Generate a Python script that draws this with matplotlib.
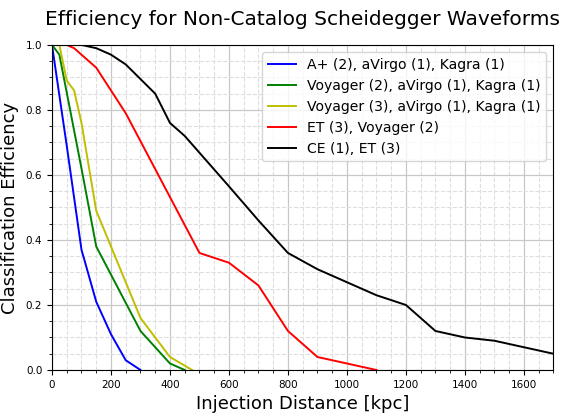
import matplotlib
matplotlib.use("Agg")
import matplotlib.pyplot as plt
from matplotlib.ticker import AutoMinorLocator

# injection distance [kpc] and efficiency for each network
dist_aplus = [0, 50, 100, 150, 200, 250, 300]
eff_aplus = [1.0, 0.69, 0.37, 0.21, 0.11, 0.03, 0.0]

dist_voy2 = [0, 25, 100, 150, 300, 400, 450]
eff_voy2 = [1.0, 0.97, 0.62, 0.38, 0.12, 0.02, 0.0]

dist_voy3 = [0, 25, 50, 75, 100, 150, 300, 400, 475]
eff_voy3 = [1.0, 1.0, 0.89, 0.86, 0.76, 0.49, 0.16, 0.04, 0.0]

dist_et = [0, 50, 75, 150, 250, 500, 600, 700, 800, 900, 1100]
eff_et = [1.0, 1.0, 0.99, 0.93, 0.79, 0.36, 0.33, 0.26, 0.12, 0.04, 0.0]

dist_ce = [0, 100, 150, 200, 250, 350, 400, 450, 600, 700, 800, 900,
           1100, 1200, 1300, 1400, 1500, 1600, 1700]
eff_ce = [1.0, 1.0, 0.99, 0.97, 0.94, 0.85, 0.76, 0.72, 0.565, 0.46, 0.36,
          0.31, 0.23, 0.20, 0.12, 0.10, 0.09, 0.07, 0.05]

labels = ["A+ (2), aVirgo (1), Kagra (1)",
          "Voyager (2), aVirgo (1), Kagra (1)",
          "Voyager (3), aVirgo (1), Kagra (1)",
          "ET (3), Voyager (2)",
          "CE (1), ET (3)"]


def main():
    fig = plt.figure(figsize=(5.67, 4.16), dpi=100)
    ax = fig.add_axes([0.0917, 0.1106, 0.8843, 0.7814])

    ax.plot(dist_aplus, eff_aplus, 'b', lw=1.4, label=labels[0])
    ax.plot(dist_voy2, eff_voy2, 'g', lw=1.4, label=labels[1])
    ax.plot(dist_voy3, eff_voy3, 'y', lw=1.4, label=labels[2])
    ax.plot(dist_et, eff_et, 'r', lw=1.4, label=labels[3])
    ax.plot(dist_ce, eff_ce, 'k', lw=1.4, label=labels[4])

    ax.set_xlim(0, 1700)
    ax.set_ylim(0, 1.0)
    ax.xaxis.set_minor_locator(AutoMinorLocator(4))
    ax.yaxis.set_minor_locator(AutoMinorLocator(4))
    ax.grid(which='major', color='#c8c8c8', lw=0.9)
    ax.grid(which='minor', color='#dedede', ls='--', lw=0.8)
    ax.set_axisbelow(True)
    ax.tick_params(labelsize=7.5)

    ax.set_xlabel('Injection Distance [kpc]', fontsize=13)
    ax.set_ylabel('Classification Efficiency', fontsize=13, labelpad=5)
    ax.set_title('Efficiency for Non-Catalog Scheidegger Waveforms', fontsize=14.5, pad=14)
    ax.legend(loc='upper right', fontsize=10.1)

    fig.savefig("out.png", dpi=100)


if __name__ == "__main__":
    main()
